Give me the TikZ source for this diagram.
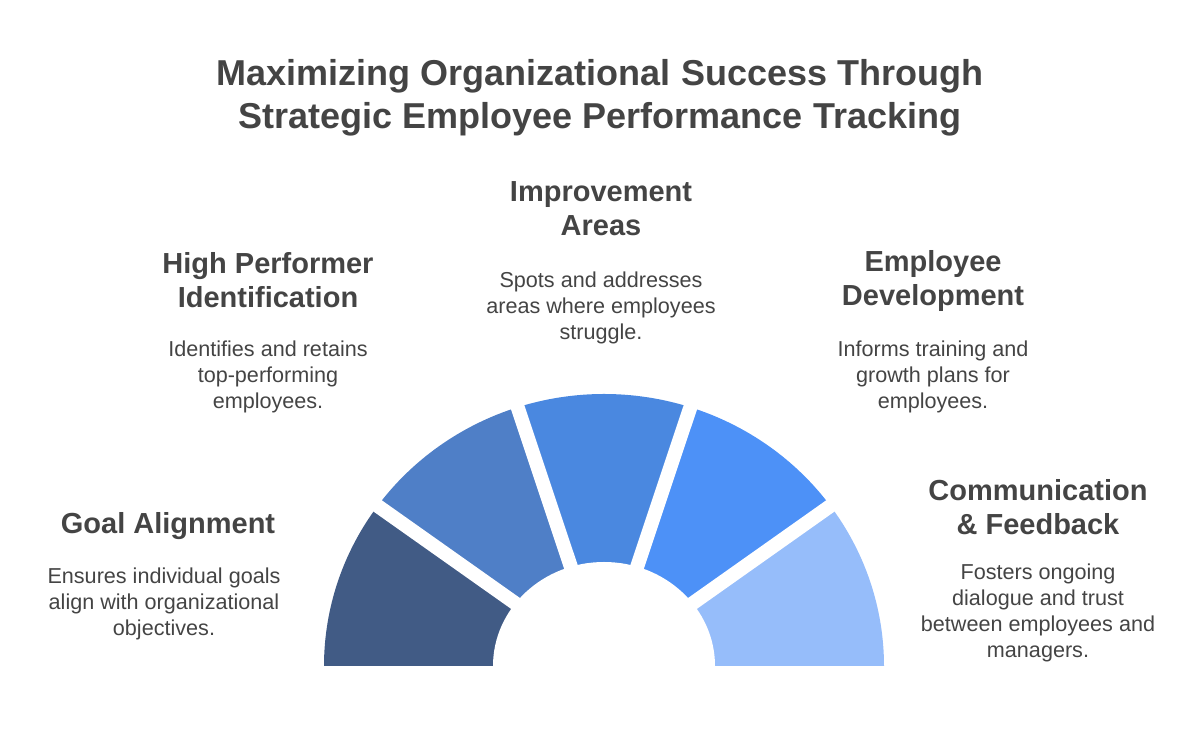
\documentclass[tikz,border=0pt]{standalone}
\usepackage{fontspec}
\setmainfont{Liberation Sans}
\usetikzlibrary{positioning}
\definecolor{txt}{HTML}{444444}
\definecolor{segA}{HTML}{415B85}
\definecolor{segB}{HTML}{4F7FC7}
\definecolor{segC}{HTML}{4A88E0}
\definecolor{segD}{HTML}{4D91F7}
\definecolor{segE}{HTML}{96BDFA}
\tikzset{
  ttl/.style={font=\fontsize{27}{32.25}\selectfont\bfseries, text=txt, align=center, inner sep=0pt},
  head/.style={font=\fontsize{21.75}{25.5}\selectfont\bfseries, text=txt, align=center, inner sep=0pt},
  desc/.style={font=\fontsize{16.2}{19.5}\selectfont, text=txt, align=center, inner sep=0pt},
}
\begin{document}
\begin{tikzpicture}[x=0.75pt,y=0.75pt]
\useasboundingbox (0,0) rectangle (1200,737);

% title:
\node[ttl] (title) at (600,639) {Maximizing Organizational Success Through\\Strategic Employee Performance Tracking};

% fan:
\coordinate (o) at (604,71);
\foreach \a/\c in {180/segA,144/segB,108/segC,72/segD,36/segE}
  \fill[\c] (o) -- ++(\a:280 and 272) arc[start angle=\a, end angle=\a-36, x radius=280, y radius=272] -- cycle;
\fill[white] (o) ellipse[x radius=111, y radius=104];
\foreach \a in {36,72,108,144}
  \draw[white, line width=10.5pt] (o) -- ++(\a:300 and 292);

% goal alignment:
\node[head] (goalh) at (168,211) {Goal Alignment};
\node[desc] (goald) at (164,133) {Ensures individual goals\\align with organizational\\objectives.};

% high performer identification:
\node[head] (highh) at (268,457) {High Performer\\Identification};
\node[desc] (highd) at (268,360) {Identifies and retains\\top-performing\\employees.};

% improvement areas:
\node[head] (imph) at (601,528) {Improvement\\Areas};
\node[desc] (impd) at (601,429) {Spots and addresses\\areas where employees\\struggle.};

% employee development:
\node[head] (devh) at (933,455.5) {Employee\\Development};
\node[desc] (devd) at (933,360) {Informs training and\\growth plans for\\employees.};

% communication and feedback:
\node[head] (comh) at (1038,230) {Communication\\\& Feedback};
\node[desc] (comd) at (1038,124) {Fosters ongoing\\dialogue and trust\\between employees and\\managers.};
\end{tikzpicture}
\end{document}
